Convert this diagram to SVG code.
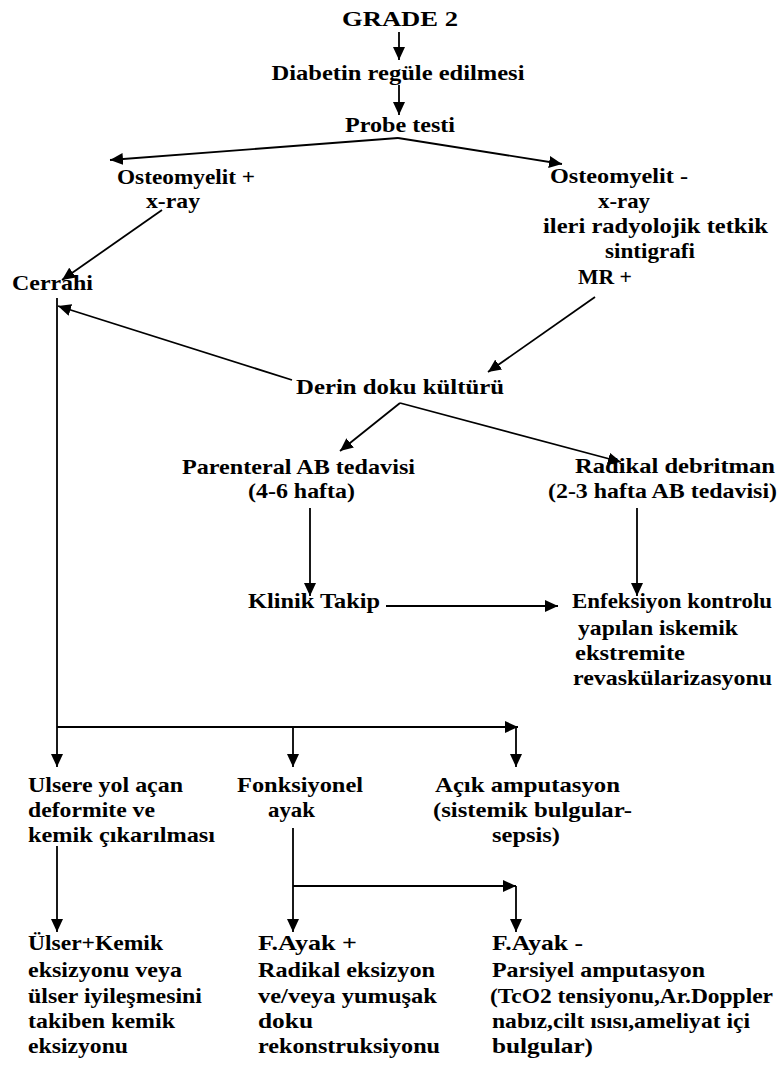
<svg xmlns="http://www.w3.org/2000/svg" width="780" height="1065" viewBox="0 0 780 1065">
<style>
text{font-family:"Liberation Serif",Tinos,"Times New Roman",Times,serif;font-weight:bold;font-size:22px;fill:#000}
.c{text-anchor:middle}
.ln{stroke:#000;stroke-width:1.8;fill:none}
.ar{marker-end:url(#ah)}
</style>
<defs>
<marker id="ah" viewBox="0 0 13 12" refX="13" refY="6" markerWidth="13" markerHeight="12" markerUnits="userSpaceOnUse" orient="auto">
<path d="M0,0 L13,6 L0,12 Z" fill="#000"/>
</marker>
</defs>
<rect width="780" height="1065" fill="#fff"/>
<g id="connectors">
<line class="ln ar" x1="399" y1="32" x2="399" y2="60"/>
<line class="ln ar" x1="399" y1="85" x2="399" y2="115"/>
<line class="ln ar" x1="398" y1="138" x2="110" y2="160"/>
<line class="ln ar" x1="398" y1="138" x2="562" y2="164"/>
<line class="ln ar" x1="162" y1="210" x2="62" y2="280"/>
<line class="ln ar" x1="595" y1="297" x2="488" y2="372"/>
<line class="ln ar" x1="292" y1="380" x2="58" y2="306"/>
<line class="ln ar" x1="400" y1="403" x2="340" y2="451"/>
<line class="ln ar" x1="400" y1="403" x2="621" y2="462"/>
<line class="ln ar" x1="310" y1="508" x2="310" y2="596"/>
<line class="ln ar" x1="637" y1="508" x2="637" y2="596"/>
<line class="ln ar" x1="386" y1="606" x2="558" y2="606"/>
<line class="ln ar" x1="57" y1="298" x2="57" y2="767"/>
<line class="ln ar" x1="57" y1="727" x2="518" y2="727"/>
<line class="ln ar" x1="293" y1="727" x2="293" y2="767"/>
<line class="ln ar" x1="516" y1="727" x2="516" y2="767"/>
<line class="ln ar" x1="57" y1="846" x2="57" y2="932"/>
<line class="ln ar" x1="293" y1="828" x2="293" y2="932"/>
<line class="ln ar" x1="293" y1="886" x2="516" y2="886"/>
<line class="ln ar" x1="516" y1="886" x2="516" y2="932"/>
</g>
<g id="grade2"><text class="c" x="400" y="26" font-size="24" textLength="116" lengthAdjust="spacingAndGlyphs">GRADE 2</text></g>
<g id="diabetin"><text class="c" x="398" y="80" textLength="253" lengthAdjust="spacingAndGlyphs">Diabetin regüle edilmesi</text></g>
<g id="probe"><text class="c" x="400" y="132" textLength="110" lengthAdjust="spacingAndGlyphs">Probe testi</text></g>
<g id="osteo-plus"><text x="117" y="184" textLength="138" lengthAdjust="spacingAndGlyphs">Osteomyelit +</text><text x="146" y="208" textLength="54" lengthAdjust="spacingAndGlyphs">x-ray</text></g>
<g id="cerrahi"><text x="12" y="290" textLength="81" lengthAdjust="spacingAndGlyphs">Cerrahi</text></g>
<g id="osteo-minus"><text x="550" y="183" textLength="138" lengthAdjust="spacingAndGlyphs">Osteomyelit -</text><text x="598" y="208" textLength="52" lengthAdjust="spacingAndGlyphs">x-ray</text><text x="543" y="233" textLength="225" lengthAdjust="spacingAndGlyphs">ileri radyolojik tetkik</text><text x="605" y="258" textLength="90" lengthAdjust="spacingAndGlyphs">sintigrafi</text><text x="578" y="284" textLength="54" lengthAdjust="spacingAndGlyphs">MR +</text></g>
<g id="derin"><text x="296" y="394" textLength="208" lengthAdjust="spacingAndGlyphs">Derin doku kültürü</text></g>
<g id="parenteral"><text x="182" y="474" textLength="233" lengthAdjust="spacingAndGlyphs">Parenteral AB tedavisi</text><text x="248" y="498" textLength="107" lengthAdjust="spacingAndGlyphs">(4-6 hafta)</text></g>
<g id="radikal"><text x="575" y="473" textLength="200" lengthAdjust="spacingAndGlyphs">Radikal debritman</text><text x="548" y="498" textLength="229" lengthAdjust="spacingAndGlyphs">(2-3 hafta AB tedavisi)</text></g>
<g id="klinik"><text x="248" y="608" textLength="132" lengthAdjust="spacingAndGlyphs">Klinik Takip</text></g>
<g id="enfeksiyon"><text x="572" y="608" textLength="200" lengthAdjust="spacingAndGlyphs">Enfeksiyon kontrolu</text><text x="578" y="635" textLength="160" lengthAdjust="spacingAndGlyphs">yapılan iskemik</text><text x="575" y="660" textLength="110" lengthAdjust="spacingAndGlyphs">ekstremite</text><text x="573" y="685" textLength="199" lengthAdjust="spacingAndGlyphs">revaskülarizasyonu</text></g>
<g id="ulsere"><text x="28" y="792" textLength="155" lengthAdjust="spacingAndGlyphs">Ulsere yol açan</text><text x="28" y="817" textLength="127" lengthAdjust="spacingAndGlyphs">deformite ve</text><text x="28" y="842" textLength="187" lengthAdjust="spacingAndGlyphs">kemik çıkarılması</text></g>
<g id="fonksiyonel"><text x="237" y="792" textLength="126" lengthAdjust="spacingAndGlyphs">Fonksiyonel</text><text x="268" y="817" textLength="47" lengthAdjust="spacingAndGlyphs">ayak</text></g>
<g id="acik"><text x="435" y="792" textLength="185" lengthAdjust="spacingAndGlyphs">Açık amputasyon</text><text x="433" y="817" textLength="199" lengthAdjust="spacingAndGlyphs">(sistemik bulgular-</text><text x="492" y="842" textLength="68" lengthAdjust="spacingAndGlyphs">sepsis)</text></g>
<g id="ulser-kemik"><text x="28" y="950" textLength="135" lengthAdjust="spacingAndGlyphs">Ülser+Kemik</text><text x="28" y="977" textLength="154" lengthAdjust="spacingAndGlyphs">eksizyonu veya</text><text x="28" y="1003" textLength="174" lengthAdjust="spacingAndGlyphs">ülser iyileşmesini</text><text x="28" y="1028" textLength="147" lengthAdjust="spacingAndGlyphs">takiben kemik</text><text x="28" y="1053" textLength="100" lengthAdjust="spacingAndGlyphs">eksizyonu</text></g>
<g id="fayak-plus"><text x="258" y="950" textLength="99" lengthAdjust="spacingAndGlyphs">F.Ayak +</text><text x="258" y="977" textLength="177" lengthAdjust="spacingAndGlyphs">Radikal eksizyon</text><text x="258" y="1003" textLength="179" lengthAdjust="spacingAndGlyphs">ve/veya yumuşak</text><text x="258" y="1028" textLength="55" lengthAdjust="spacingAndGlyphs">doku</text><text x="258" y="1053" textLength="182" lengthAdjust="spacingAndGlyphs">rekonstruksiyonu</text></g>
<g id="fayak-minus"><text x="492" y="950" textLength="91" lengthAdjust="spacingAndGlyphs">F.Ayak -</text><text x="492" y="977" textLength="213" lengthAdjust="spacingAndGlyphs">Parsiyel amputasyon</text><text x="490" y="1003" textLength="283" lengthAdjust="spacingAndGlyphs">(TcO2 tensiyonu,Ar.Doppler</text><text x="492" y="1028" textLength="258" lengthAdjust="spacingAndGlyphs">nabız,cilt ısısı,ameliyat içi</text><text x="492" y="1053" textLength="101" lengthAdjust="spacingAndGlyphs">bulgular)</text></g>
</svg>
